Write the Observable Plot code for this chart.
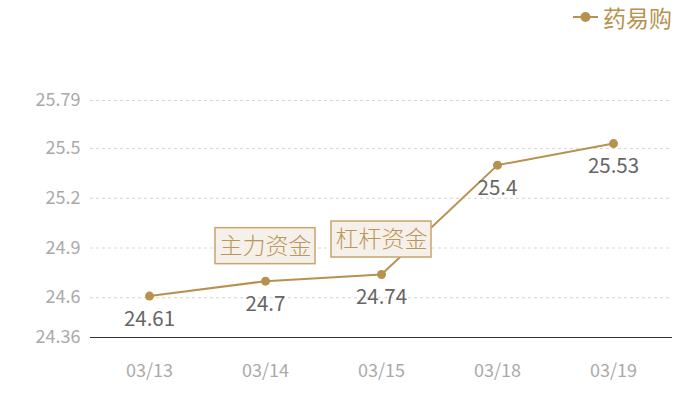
<!DOCTYPE html>
<html><head><meta charset="utf-8">
<script src="https://cdn.jsdelivr.net/npm/d3@7"></script>
<script src="https://cdn.jsdelivr.net/npm/@observablehq/plot@0.6"></script>
<style>
body{margin:0;background:#fff;font-family:"Noto Sans CJK SC","Noto Sans",sans-serif;}
#wrap{position:relative;width:700px;height:400px;}
#legend{position:absolute;top:2px;right:28px;display:flex;align-items:center;color:#b8914f;font-size:23px;line-height:30px;z-index:2;font-weight:400;}
#legend svg{margin-right:5px;}
</style>
</head><body>
<div id="wrap"><div id="legend"><svg width="25" height="20"><line x1="0" y1="10" x2="25" y2="10" stroke="#b8914f" stroke-width="2"/><circle cx="12.5" cy="10" r="5" fill="#b8914f"/></svg><span>药易购</span></div></div>
<script>
const dates = ["03/13","03/14","03/15","03/18","03/19"];
const prices = [24.61, 24.7, 24.74, 25.4, 25.53];
const yTicks = [24.36, 24.6, 24.9, 25.2, 25.5, 25.79];
const noteDates = ["03/14","03/15"];
const noteValues = [24.7, 24.74];
const noteTexts = ["主力资金","杠杆资金"];

const data = dates.map((d,i)=>({date:d, value:prices[i]}));
const notes = noteDates.map((d,i)=>({date:d, value:noteValues[i], text:noteTexts[i]}));
const gold = "#b8914f";

const chart = Plot.plot({
  width: 700, height: 400,
  marginLeft: 90, marginRight: 28, marginTop: 100, marginBottom: 63,
  style: {fontFamily: '"Noto Sans CJK SC","Noto Sans",sans-serif', color: "#aaa", background: "#fff"},
  x: {type: "point", domain: dates, padding: 0.5},
  y: {domain: [24.36, 25.79]},
  marks: [
    Plot.gridY(yTicks.filter(t => t > 24.36), {stroke: "#d6d6d6", strokeOpacity: 1, strokeDasharray: "3,3"}),
    Plot.ruleY([24.36], {stroke: "#333", strokeWidth: 1}),
    Plot.axisY({ticks: yTicks, tickSize: 0, tickPadding: 10, fontSize: 18, fill: "#aaa", tickFormat: d => String(d), label: null}),
    Plot.axisX({tickSize: 0, tickPadding: 27, fontSize: 18, fill: "#aaa", label: null}),
    Plot.line(data, {x: "date", y: "value", stroke: gold, strokeWidth: 2}),
    Plot.dot(data, {x: "date", y: "value", r: 4.5, fill: gold}),
    Plot.text(data, {x: "date", y: "value", text: d => String(d.value), dy: 23, fontSize: 20.5, fill: "#666"}),
    Plot.rect(notes, {x1: "date", x2: "date", y1: "value", y2: "value", insetLeft: -50, insetRight: -50, insetTop: -36, dy: -17, fill: "#f5f0e9", stroke: "#c9a46c", strokeWidth: 1.5}),
    Plot.text(notes, {x: "date", y: "value", text: "text", dy: -35, fontSize: 23, fill: "#bd955a", fontWeight: 300})
  ]
});
document.getElementById("wrap").appendChild(chart);
chart.style.position = "absolute";
chart.style.left = "0"; chart.style.top = "0";
</script>
</body></html>
